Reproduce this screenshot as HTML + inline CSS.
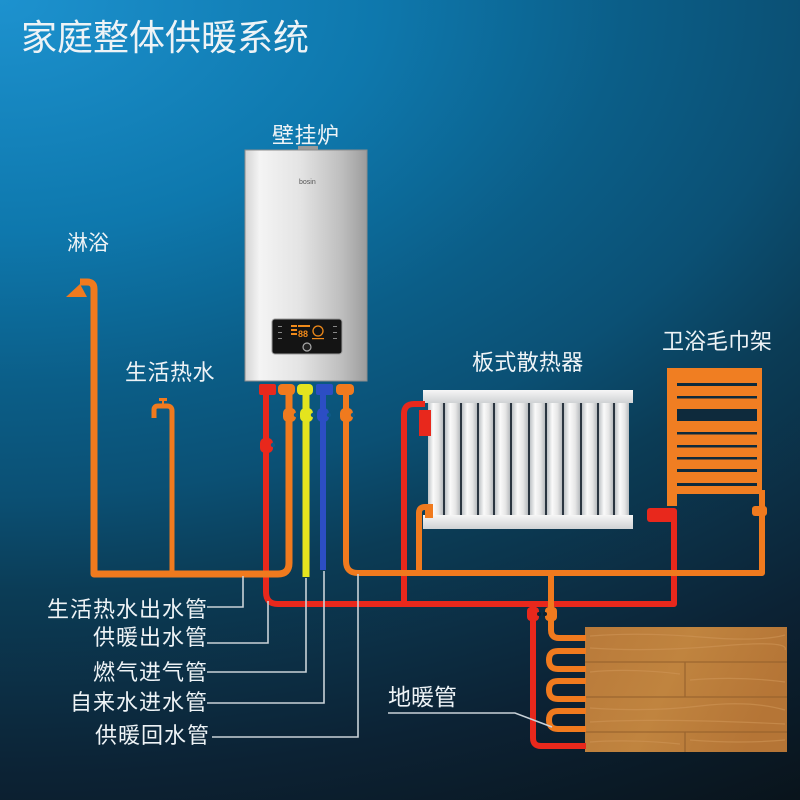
<!DOCTYPE html>
<html>
<head>
<meta charset="utf-8">
<style>
  html,body{margin:0;padding:0;}
  body{width:800px;height:800px;overflow:hidden;
    background: radial-gradient(ellipse 1300px 800px at 0 0, #1d92cf 0%, #0e78ad 29%, #0b5e88 48%, #0b5074 62%, #0b3c56 74%, #0c2234 97%, #09141c 117%);}
  svg{display:block;}
  text{font-family:"Liberation Sans","Noto Sans CJK SC",sans-serif;fill:#eef3f6;}
</style>
</head>
<body>
<svg width="800" height="800" viewBox="0 0 800 800" xmlns="http://www.w3.org/2000/svg">
  <defs>
    <linearGradient id="silver" x1="0" y1="0" x2="1" y2="0">
      <stop offset="0" stop-color="#d4d4d4"/>
      <stop offset="0.12" stop-color="#f4f4f4"/>
      <stop offset="0.45" stop-color="#e4e4e4"/>
      <stop offset="0.8" stop-color="#bdbdbd"/>
      <stop offset="1" stop-color="#9c9c9c"/>
    </linearGradient>
    <linearGradient id="col" x1="0" y1="0" x2="1" y2="0">
      <stop offset="0" stop-color="#bfc3c6"/>
      <stop offset="0.35" stop-color="#fafafa"/>
      <stop offset="0.7" stop-color="#e6e6e6"/>
      <stop offset="1" stop-color="#b8bcbf"/>
    </linearGradient>
    <linearGradient id="bar" x1="0" y1="0" x2="0" y2="1">
      <stop offset="0" stop-color="#f6f6f6"/>
      <stop offset="1" stop-color="#cfd2d4"/>
    </linearGradient>
    <linearGradient id="wood" x1="0" y1="0" x2="1" y2="0.3">
      <stop offset="0" stop-color="#b97a3a"/>
      <stop offset="0.5" stop-color="#c0843f"/>
      <stop offset="1" stop-color="#b57536"/>
    </linearGradient>
  </defs>

  <!-- Title -->
  <text x="21" y="50" font-size="36">家庭整体供暖系统</text>

  <!-- Boiler -->
  <text x="272" y="143" font-size="22" letter-spacing="0.5">壁挂炉</text>
  <rect x="298" y="146" width="20" height="6" fill="#9a9a9a"/>
  <rect x="245" y="150" width="122" height="231" fill="url(#silver)" stroke="#8c8c8c" stroke-width="1"/>
  <text x="299" y="184" font-size="7" style="fill:#555">bosin</text>
  <rect x="272" y="319" width="70" height="35" rx="3" fill="#141414" stroke="#9a9a9a" stroke-width="1"/>
  <rect x="291" y="325" width="6" height="2" fill="#f08a1a"/>
  <rect x="291" y="329" width="6" height="2" fill="#f08a1a"/>
  <rect x="291" y="333" width="6" height="2" fill="#f08a1a"/>
  <rect x="298" y="325" width="12" height="2" fill="#f08a1a"/>
  <text x="298" y="337" font-size="9" font-weight="bold" style="fill:#f08a1a;font-family:'Liberation Sans',sans-serif">88</text>
  <circle cx="318" cy="331" r="5" fill="none" stroke="#f08a1a" stroke-width="1.3"/>
  <rect x="312" y="338" width="12" height="1.2" fill="#f08a1a"/>
  <circle cx="307" cy="347" r="4" fill="#222" stroke="#aaa" stroke-width="1.2"/>
  <g fill="#888">
    <rect x="278" y="326" width="4" height="1"/><rect x="278" y="332" width="4" height="1"/><rect x="278" y="338" width="4" height="1"/>
    <rect x="333" y="326" width="4" height="1"/><rect x="333" y="332" width="4" height="1"/><rect x="333" y="338" width="4" height="1"/>
  </g>

  <!-- Labels -->
  <text x="67" y="250" font-size="21">淋浴</text>
  <text x="125" y="380" font-size="22" letter-spacing="0.5">生活热水</text>
  <text x="472" y="370" font-size="22" letter-spacing="0.3">板式散热器</text>
  <text x="662" y="349" font-size="22">卫浴毛巾架</text>
  <text x="388" y="705" font-size="23">地暖管</text>

  <text x="47" y="617" font-size="22" letter-spacing="1">生活热水出水管</text>
  <text x="93" y="645" font-size="22" letter-spacing="1">供暖出水管</text>
  <text x="93" y="680" font-size="22" letter-spacing="1">燃气进气管</text>
  <text x="70" y="710" font-size="22" letter-spacing="1">自来水进水管</text>
  <text x="95" y="743" font-size="22" letter-spacing="1">供暖回水管</text>

  <!-- Radiator -->
  <rect x="428" y="402" width="200" height="114" fill="#2a3540"/>
  <g fill="url(#col)">
    <rect x="428" y="402" width="15" height="114"/>
    <rect x="445" y="402" width="15" height="114"/>
    <rect x="462" y="402" width="15" height="114"/>
    <rect x="479" y="402" width="14" height="114"/>
    <rect x="495" y="402" width="15" height="114"/>
    <rect x="512" y="402" width="16" height="114"/>
    <rect x="530" y="402" width="15" height="114"/>
    <rect x="547" y="402" width="15" height="114"/>
    <rect x="564" y="402" width="16" height="114"/>
    <rect x="582" y="402" width="15" height="114"/>
    <rect x="599" y="402" width="14" height="114"/>
    <rect x="615" y="402" width="14" height="114"/>
  </g>
  <rect x="423" y="390" width="210" height="13" fill="url(#bar)"/>
  <rect x="423" y="515" width="210" height="14" fill="url(#bar)"/>

  <!-- Towel rack -->
  <rect x="667" y="368" width="95" height="126" fill="#f07e22"/>
  <g fill="#0e2a3c">
    <rect x="677" y="383" width="80" height="3"/>
    <rect x="677" y="396" width="80" height="2.5"/>
    <rect x="677" y="409" width="80" height="12"/>
    <rect x="677" y="432" width="80" height="2.5"/>
    <rect x="677" y="445" width="80" height="2.5"/>
    <rect x="677" y="457" width="80" height="2.5"/>
    <rect x="677" y="469" width="80" height="3"/>
    <rect x="677" y="483" width="80" height="3"/>
  </g>
  <rect x="667" y="368" width="10" height="138" fill="#f07e22"/>

  <!-- Floor -->
  <rect x="585" y="627" width="202" height="125" fill="url(#wood)"/>
  <g stroke="#cf9556" stroke-width="1.2" opacity="0.6" fill="none">
    <path d="M590,636 Q640,632 700,637 T785,635"/>
    <path d="M590,648 Q650,652 720,646 T785,650"/>
    <path d="M590,672 Q630,668 680,674"/>
    <path d="M690,680 Q740,676 785,682"/>
    <path d="M590,708 Q650,712 700,706 T785,710"/>
    <path d="M590,722 Q660,718 785,724"/>
    <path d="M590,742 Q630,739 680,744"/>
    <path d="M690,740 Q740,744 785,740"/>
  </g>
  <g stroke="#94602c" stroke-width="1.3" opacity="0.8">
    <line x1="585" y1="662" x2="787" y2="662"/>
    <line x1="585" y1="697" x2="787" y2="697"/>
    <line x1="585" y1="732" x2="787" y2="732"/>
    <line x1="685" y1="662" x2="685" y2="697"/>
    <line x1="685" y1="732" x2="685" y2="752"/>
  </g>

  <!-- Pipes -->
  <g fill="none" stroke-linecap="butt" stroke-linejoin="round">
    <!-- red supply -->
    <path d="M266,390 V592 Q266,604 278,604 H674 V512" stroke="#e8281c" stroke-width="6"/>
    <path d="M404,604 V414 Q404,404 414,404 H425" stroke="#e8281c" stroke-width="6"/>
    <path d="M533,604 V738 Q533,746 541,746 H586" stroke="#e8281c" stroke-width="6"/>
    <!-- orange DHW -->
    <path d="M289,390 V563 Q289,574 278,574 H94 V289 Q94,282 87,282 H80" stroke="#f07a1e" stroke-width="7"/>
    <path d="M172,574 V411 Q172,406 167,406 H158 Q154,406 154,410 V418" stroke="#f07a1e" stroke-width="5"/>
    <!-- orange return -->
    <path d="M346,390 V561 Q346,573 358,573 H762 V490" stroke="#f07a1e" stroke-width="6"/>
    <path d="M419,573 V513 Q419,507 425,507 H431" stroke="#f07a1e" stroke-width="6"/>
    <path d="M551,573 V630 Q551,638 559,638 H586" stroke="#f07a1e" stroke-width="6"/>
    <path d="M586,651 H558 Q549,651 549,660 Q549,669 558,669 H586" stroke="#f07a1e" stroke-width="6"/>
    <path d="M586,681 H558 Q549,681 549,690 Q549,699 558,699 H586" stroke="#f07a1e" stroke-width="6"/>
    <path d="M586,711 H558 Q549,711 549,720 Q549,729 558,729 H586" stroke="#f07a1e" stroke-width="6"/>
    <!-- gas & water -->
    <path d="M306,390 V577" stroke="#e4e41e" stroke-width="7"/>
    <path d="M323,390 V570" stroke="#2c4ec4" stroke-width="6"/>
  </g>

  <!-- Shower head -->
  <path d="M80,284 L66,297 L87,297 Z" fill="#f07a1e"/>
  <!-- faucet handle -->
  <rect x="159" y="398" width="8" height="3" fill="#f07a1e"/>
  <rect x="162" y="400" width="2" height="6" fill="#f07a1e"/>

  <!-- Boiler caps -->
  <rect x="259" y="384" width="17" height="11" rx="2" fill="#e8281c"/>
  <rect x="278" y="384" width="17" height="11" rx="4" fill="#f07a1e"/>
  <rect x="297" y="384" width="16" height="11" rx="4" fill="#e4e41e"/>
  <rect x="316" y="384" width="17" height="11" rx="2" fill="#2c4ec4"/>
  <rect x="336" y="384" width="18" height="11" rx="4" fill="#f07a1e"/>

  <!-- Valves -->
  <g>
    <rect x="283" y="408" width="13" height="14" rx="5" fill="#f07a1e"/>
    <circle cx="296" cy="415" r="2.2" fill="#0d5a85"/>
    <rect x="300" y="408" width="13" height="14" rx="5" fill="#e4e41e"/>
    <circle cx="313" cy="415" r="2.2" fill="#0d5a85"/>
    <rect x="317" y="408" width="12" height="14" rx="5" fill="#2c4ec4"/>
    <circle cx="329" cy="415" r="2.2" fill="#0d5a85"/>
    <rect x="340" y="408" width="13" height="14" rx="5" fill="#f07a1e"/>
    <circle cx="353" cy="415" r="2.2" fill="#0d5a85"/>
    <rect x="260" y="438" width="13" height="15" rx="5" fill="#e8281c"/>
    <circle cx="273" cy="445" r="2.2" fill="#0d5a85"/>
    <!-- radiator valves -->
    <rect x="419" y="410" width="12" height="26" fill="#e8281c"/>
    <rect x="425" y="504" width="8" height="14" fill="#f07a1e"/>
    <!-- towel rack valves -->
    <rect x="647" y="508" width="30" height="14" rx="3" fill="#e8281c"/>
    <rect x="752" y="506" width="15" height="10" rx="3" fill="#f07a1e"/>
    <!-- floor valves -->
    <rect x="527" y="607" width="12" height="14" rx="4" fill="#e8281c"/>
    <circle cx="539" cy="614" r="2" fill="#0b2233"/>
    <rect x="545" y="607" width="12" height="14" rx="4" fill="#f07a1e"/>
    <circle cx="545" cy="614" r="2" fill="#0b2233"/>
  </g>

  <!-- Leader lines -->
  <g fill="none" stroke="#c9d2d8" stroke-width="1.6">
    <path d="M207,607 H243 V576"/>
    <path d="M207,643 H268 V601"/>
    <path d="M207,672 H306 V578"/>
    <path d="M207,703 H324 V571"/>
    <path d="M212,737 H358 V574"/>
    <path d="M388,713 H515 L552,727"/>
  </g>
</svg>
</body>
</html>
